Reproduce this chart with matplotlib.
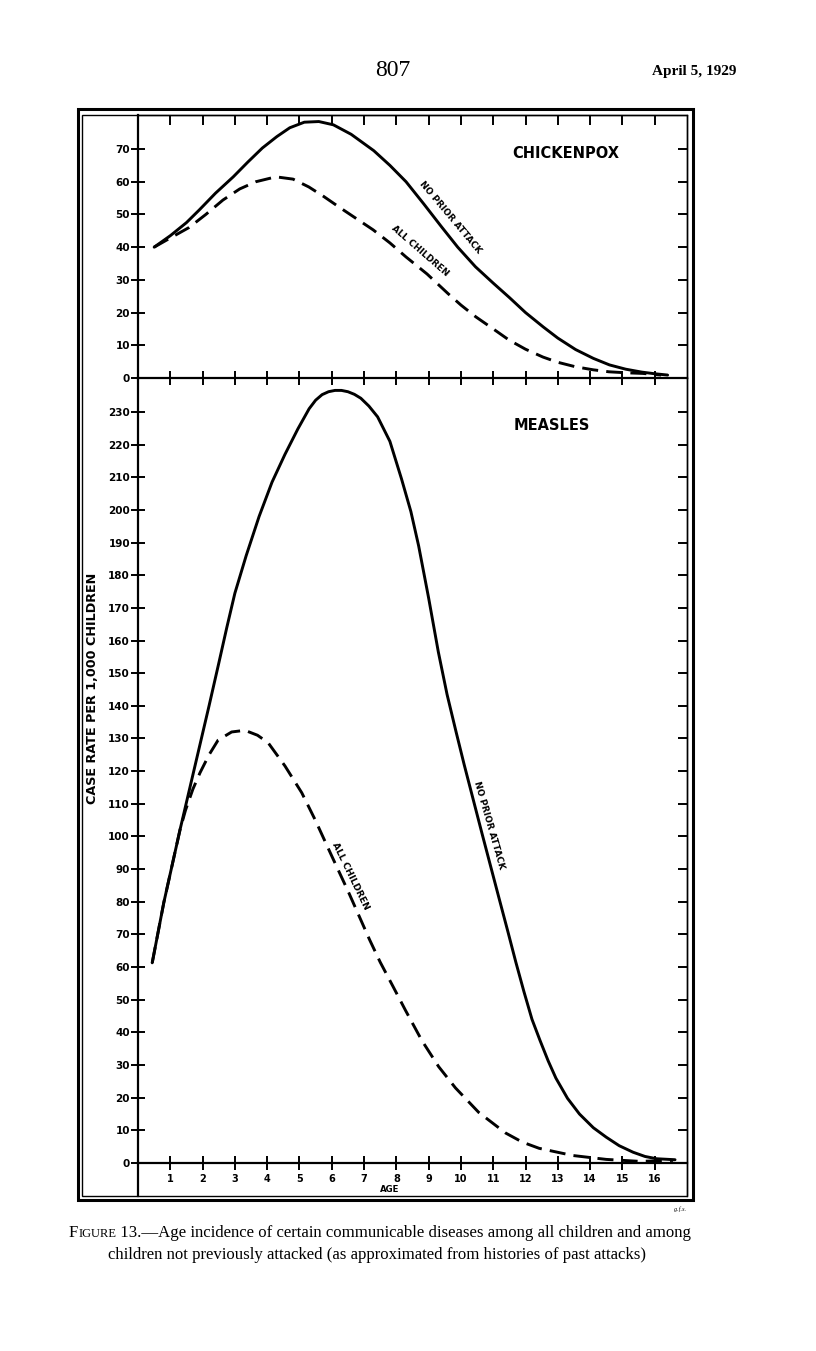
import matplotlib.pyplot as plt
from matplotlib.patches import Rectangle

plt.rcParams['font.family'] = ['DejaVu Sans']
plt.rcParams['font.weight'] = 'bold'

# ---- data (age in years, case rate per 1,000) ----
cp_age_np = [0.5, 1.0, 1.5, 1.9, 2.4, 2.95, 3.4, 3.85, 4.3, 4.7, 5.15, 5.6, 6.05, 6.6,
             7.3, 7.8, 8.3, 8.85, 9.4, 9.9, 10.45, 11.0, 11.5, 12.0, 12.55, 13.0,
             13.55, 14.1, 14.6, 15.1, 15.6, 16.0, 16.4]
cp_rate_np = [40, 43.5, 47.5, 51.4, 56.5, 61.5, 66, 70.3, 73.8, 76.5, 78.2, 78.4, 77.4, 74.5,
              69.5, 65, 60, 53.2, 46.2, 40, 34, 29, 24.6, 20, 15.6, 12.2,
              8.7, 6.0, 4.0, 2.7, 1.8, 1.3, 0.9]

cp_age_all = [0.5, 1.0, 1.58, 2.1, 2.63, 3.15, 3.65, 4.27, 4.8, 5.29, 5.75, 6.22, 6.75,
              7.28, 7.8, 8.3, 8.95, 9.6, 10.0, 10.46, 11.0, 11.49, 12.0, 12.54, 13.0, 13.56,
              14.1, 14.58, 15.1, 15.63, 16.2]
cp_rate_all = [40, 42.8, 46, 50, 54.4, 57.8, 60, 61.5, 60.8, 58.4, 55.5, 52.3, 48.8,
               45.3, 41.3, 37, 31.8, 25.8, 22.3, 18.7, 15, 11.6, 8.8, 6.4, 4.8, 3.4,
               2.5, 1.9, 1.6, 1.4, 0.9]

ms_age_np = [0.44, 0.8, 1.3, 1.75, 2.2, 2.5, 2.75, 3.0, 3.35, 3.75, 4.15, 4.55, 4.95, 5.3,
             5.5, 5.7, 5.9, 6.1, 6.3, 6.5, 6.7, 6.9, 7.15, 7.42, 7.8, 8.16, 8.45, 8.69,
             9.0, 9.3, 9.57, 9.85, 10.1, 10.65, 11.19, 11.45, 11.7, 11.95, 12.2, 12.45,
             12.7, 12.94, 13.3, 13.67, 14.1, 14.5, 14.9, 15.33, 15.7, 16.06, 16.63]
ms_rate_np = [61.3, 79.8, 102, 121, 140, 153, 164, 174.5, 186, 198, 208.5, 217, 224.8, 231,
              233.6, 235.3, 236.2, 236.6, 236.6, 236.2, 235.4, 234.2, 231.8, 228.5, 221, 209.5,
              199.5, 189, 173, 156.5, 143.5, 132, 122, 101, 80.7, 71, 61.5, 52.5, 44, 37.5,
              31.3, 26, 19.8, 15, 10.8, 7.9, 5.3, 3.3, 2.0, 1.3, 1.0]

ms_age_all = [0.44, 0.8, 1.3, 1.47, 1.7, 1.92, 2.2, 2.48, 2.9, 3.31, 3.7, 4.03, 4.55, 5.07,
              5.49, 6.0, 6.53, 7.17, 7.5, 7.9, 8.28, 8.79, 9.31, 9.83, 10.55, 11.38,
              11.9, 12.42, 13.46, 14.5, 15.53, 16.57]
ms_rate_all = [61.3, 79.8, 102, 108, 114.5, 119.5, 125, 129.5, 132, 132.5, 131, 128.7, 121.6, 113.4,
               105, 94, 82.7, 68.4, 61.5, 54, 46.8, 37.5, 29.5, 23.0, 15.5, 9.2,
               6.4, 4.5, 2.3, 1.1, 0.5, 0.8]

ages = list(range(1, 17))
cp_yticks = list(range(0, 80, 10))
ms_yticks = list(range(0, 240, 10))

# ---- layout in page pixels ----
W, H = 816, 1351


def fx(px):
    return px / W


def fy(py):
    return 1 - py / H


fig = plt.figure(figsize=(8.16, 13.51), dpi=100)
fig.patch.set_facecolor('white')

left, right = 138, 687
bottom = 1196
ax_cp = fig.add_axes([fx(left), fy(378), (right - left) / W, (378 - 115) / H])
ax_ms = fig.add_axes([fx(left), fy(bottom), (right - left) / W, (bottom - 378) / H])

solid = dict(color='black', lw=2.1, solid_capstyle='round', solid_joinstyle='round', zorder=5)
dashed = dict(color='black', lw=2.1, dashes=(5.5, 2.8), zorder=5)

for ax in (ax_cp, ax_ms):
    ax.set_xlim(0, 17)
    ax.patch.set_alpha(0)
    ax.spines['top'].set_visible(False)
    ax.spines['right'].set_visible(False)
    ax.spines['left'].set_linewidth(1.6)
    ax.spines['bottom'].set_linewidth(1.6)
    ax.set_xticks(ages)
    ax.tick_params(axis='both', direction='inout', length=9.5, width=1.4,
                   labelsize=7.5, pad=1)

# chickenpox panel
ax_cp.plot(cp_age_np, cp_rate_np, **solid)
ax_cp.plot(cp_age_all, cp_rate_all, **dashed)
ax_cp.set_ylim(0, 80.4)
ax_cp.set_yticks(cp_yticks)
ax_cp.set_xticklabels([])
top = ax_cp.secondary_xaxis('top')
top.set_xticks(ages)
top.tick_params(direction='in', length=7.5, width=1.4, labeltop=False)
top.spines['top'].set_linewidth(1.0)
rc = ax_cp.secondary_yaxis('right')
rc.set_yticks(cp_yticks[1:])
rc.tick_params(direction='in', length=6.5, width=1.4, labelright=False)
rc.spines['right'].set_linewidth(1.0)

ax_cp.text(13.25, 68.5, 'CHICKENPOX', fontsize=10.5, ha='center', va='center')
ax_cp.text(9.68, 49.2, 'NO PRIOR ATTACK', fontsize=6.4, rotation=-50,
           ha='center', va='center', rotation_mode='anchor')
ax_cp.text(8.72, 39.0, 'ALL CHILDREN', fontsize=6.4, rotation=-41,
           ha='center', va='center', rotation_mode='anchor')

# measles panel
ax_ms.plot(ms_age_np, ms_rate_np, **solid)
ax_ms.plot(ms_age_all, ms_rate_all, **dashed)
ax_ms.set_ylim(-(bottom - 1163) / 3.265, 240.4)
ax_ms.spines['bottom'].set_position(('data', 0))
ax_ms.set_yticks(ms_yticks)
ax_ms.set_xticklabels([str(a) for a in ages])
ax_ms.tick_params(axis='x', labelsize=7, pad=3)
rm = ax_ms.secondary_yaxis('right')
rm.set_yticks(ms_yticks[1:])
rm.tick_params(direction='in', length=6.5, width=1.4, labelright=False)
rm.spines['right'].set_linewidth(1.0)

ax_ms.text(12.8, 226, 'MEASLES', fontsize=10.5, ha='center', va='center')
ax_ms.text(10.86, 103.5, 'NO PRIOR ATTACK', fontsize=6.4, rotation=-74,
           ha='center', va='center', rotation_mode='anchor')
ax_ms.text(6.58, 88, 'ALL CHILDREN', fontsize=6.6, rotation=-64,
           ha='center', va='center', rotation_mode='anchor')

fig.text(fx(390), fy(1190), 'AGE', fontsize=6.2, ha='center', va='center')
fig.text(fx(93), fy(688), 'CASE RATE PER 1,000 CHILDREN', rotation=90,
         fontsize=9.2, ha='center', va='center')

# double frame round the drawing
fig.add_artist(Rectangle((fx(78), fy(bottom + 4)), (693 - 78) / W, (bottom + 4 - 109) / H,
                         transform=fig.transFigure, fill=False, lw=2.2, color='black'))
fig.add_artist(Rectangle((fx(82), fy(bottom)), (687 - 82) / W, (bottom - 115) / H,
                         transform=fig.transFigure, fill=False, lw=1.0, color='black'))

# page header
fig.text(fx(393), fy(70), '807', fontsize=17, family='Liberation Serif',
         weight='normal', ha='center', va='center')
fig.text(fx(736), fy(71), 'April 5, 1929', fontsize=11, family='Liberation Serif',
         weight='bold', ha='right', va='center')
fig.text(fx(686), fy(1209), 'g.f.s.', fontsize=4.5, family='Liberation Serif',
         style='italic', weight='normal', ha='right', va='center')

# caption, with small capitals for "Figure"
fig.canvas.draw()
r = fig.canvas.get_renderer()
pieces = [('F', 1.0), ('IGURE', 0.75),
          (' 13.\u2014Age incidence of certain communicable diseases among all children and among', 1.0)]


def width(s, size):
    t = fig.text(0, 0, s, fontsize=size, family='Liberation Serif', weight='normal')
    w = t.get_window_extent(r).width
    t.remove()
    return w


base = 10
total = sum(width(s, base * k) for s, k in pieces)
size = base * (622 / total)
x = 69
for s, k in pieces:
    fig.text(fx(x), fy(1237), s, fontsize=size * k, family='Liberation Serif',
             weight='normal', va='baseline')
    x += width(s, size * k)
fig.text(fx(108), fy(1259),
         'children not previously attacked (as approximated from histories of past attacks)',
         fontsize=size, family='Liberation Serif', weight='normal', va='baseline')

fig.savefig('out.png', dpi=100)
